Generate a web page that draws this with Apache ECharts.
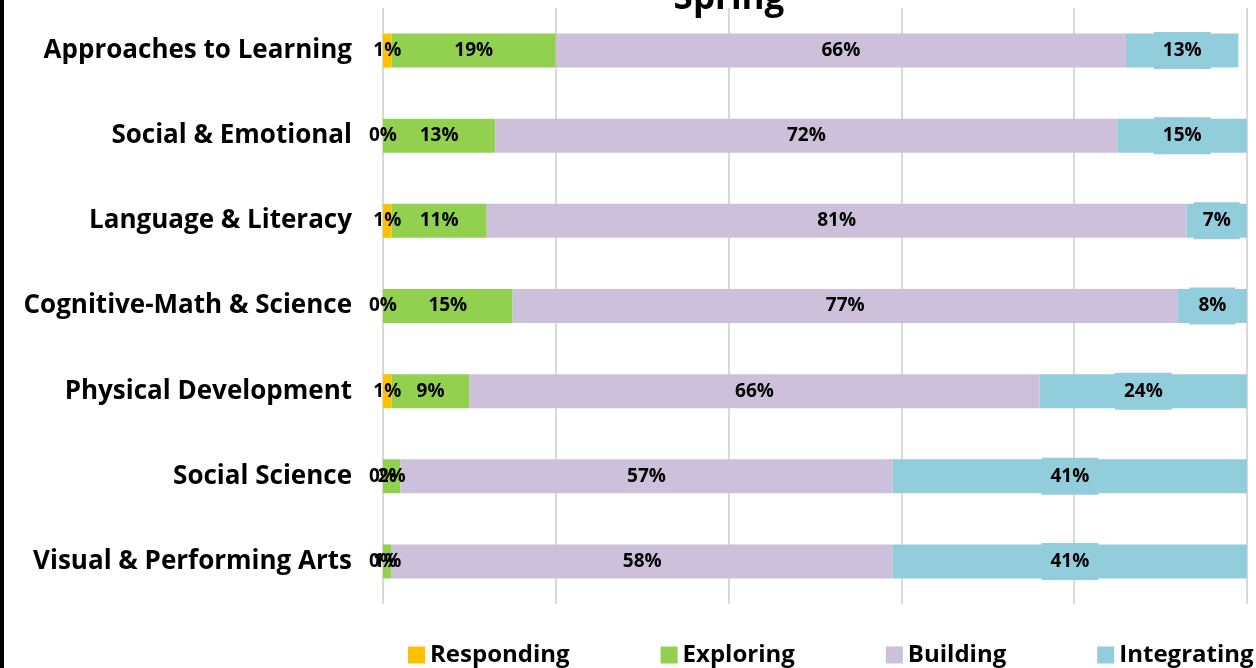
<!DOCTYPE html>
<html>
<head>
<meta charset="utf-8">
<style>
  html, body { margin: 0; padding: 0; background: #fff; }
  #main { width: 1256px; height: 668px; }
</style>
<script src="https://cdn.jsdelivr.net/npm/echarts@6/dist/echarts.min.js"></script>
</head>
<body>
<div id="main"></div>
<script>
  // domains, top to bottom
  var categories = ['Approaches to Learning', 'Social & Emotional', 'Language & Literacy',
    'Cognitive-Math & Science', 'Physical Development', 'Social Science', 'Visual & Performing Arts']
  var seriesNames = ['Responding', 'Exploring', 'Building', 'Integrating']
  var responding = [0.01, 0, 0.01, 0, 0.01, 0, 0]
  var exploring = [0.19, 0.13, 0.11, 0.15, 0.09, 0.02, 0.01]
  var building = [0.66, 0.72, 0.81, 0.77, 0.66, 0.57, 0.58]
  var integrating = [0.13, 0.15, 0.07, 0.08, 0.24, 0.41, 0.41]
  var colors = ['#FFC000', '#92D050', '#CCC0DA', '#92CDDC']

  var font = 'Open Sans'
  var chart = echarts.init(document.getElementById('main'))

  function pct(p) {
    return Math.round(p.value * 100) + '%'
  }

  function makeSeries(name, data, idx) {
    var label = {
      show: true,
      position: 'inside',
      offset: [0, 2],
      formatter: pct,
      color: '#000',
      fontFamily: font,
      fontWeight: 'bold',
      fontSize: 19
    }
    if (idx === 3) {
      // integrating labels sit on a box slightly taller than the bar
      label.backgroundColor = colors[3]
      label.padding = [10, 9, 8, 9]
      label.offset = [0, 0]
    }
    return {
      name: name,
      type: 'bar',
      stack: 'total',
      barWidth: 34,
      data: data,
      itemStyle: { color: colors[idx] },
      label: label,
      labelLayout: { hideOverlap: false }
    }
  }

  chart.setOption({
    animation: false,
    color: colors,
    title: {
      text: 'Spring',
      left: 724,
      top: -23,
      textAlign: 'center',
      textStyle: { fontFamily: font, fontWeight: 'bold', fontSize: 35, color: '#000' }
    },
    graphic: [{
      type: 'rect',
      shape: { x: 0, y: 0, width: 4, height: 668 },
      style: { fill: '#000' }
    }],
    legend: {
      data: seriesNames,
      left: 408,
      top: 643,
      width: 900,
      padding: 0,
      itemWidth: 17,
      itemHeight: 17,
      itemGap: 91,
      icon: 'rect',
      textStyle: { fontFamily: font, fontWeight: 'bold', fontSize: 24, color: '#000' }
    },
    grid: {
      left: 383,
      right: 9,
      top: 8,
      height: 596,
      containLabel: false
    },
    xAxis: {
      type: 'value',
      min: 0,
      max: 1,
      interval: 0.2,
      axisLabel: { show: false },
      axisLine: { show: false },
      axisTick: { show: false },
      splitLine: { lineStyle: { color: '#d9d9d9', width: 2 } }
    },
    yAxis: {
      type: 'category',
      inverse: true,
      data: categories,
      axisLine: { show: false },
      axisTick: { show: false },
      axisLabel: {
        margin: 31,
        padding: [8, 0, 0, 0],
        color: '#000',
        fontFamily: font,
        fontWeight: 'bold',
        fontSize: 26
      }
    },
    series: [
      makeSeries(seriesNames[0], responding, 0),
      makeSeries(seriesNames[1], exploring, 1),
      makeSeries(seriesNames[2], building, 2),
      makeSeries(seriesNames[3], integrating, 3)
    ]
  })
</script>
</body>
</html>
